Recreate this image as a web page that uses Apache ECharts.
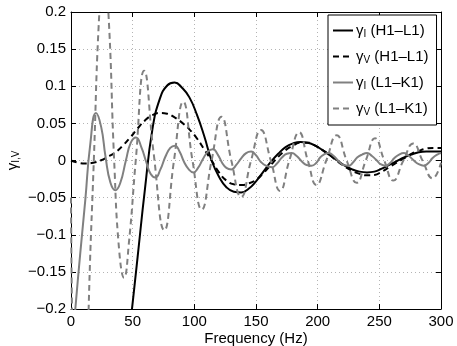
<!DOCTYPE html>
<html>
<head>
<meta charset="utf-8">
<script src="https://cdn.jsdelivr.net/npm/echarts@6/dist/echarts.min.js"></script>
<style>
  html, body { margin: 0; padding: 0; background: #fff; }
  #main { width: 457px; height: 346px; }
</style>
</head>
<body>
<div id="main"></div>
<script>
// tick labels
var xTicks = [0, 50, 100, 150, 200, 250, 300];
var yTicks = [-0.2, -0.15, -0.1, -0.05, 0, 0.05, 0.1, 0.15, 0.2];

// gamma_I (H1-L1), black solid
var hlIFreq = [42, 48, 54, 60, 66, 72, 78, 84, 90, 96, 102, 108, 114, 120, 126, 132, 138, 144, 150, 156, 162, 168, 174, 180, 186, 192, 198, 204, 210, 216, 222, 228, 234, 240, 246, 252, 258, 264, 270, 276, 282, 288, 294, 300];
var hlIVal  = [-0.31, -0.222, -0.13, -0.038, 0.042, 0.083, 0.101, 0.105, 0.098, 0.085, 0.062, 0.033, 0, -0.022, -0.036, -0.042, -0.043, -0.038, -0.028, -0.015, -0.002, 0.009, 0.018, 0.023, 0.025, 0.024, 0.02, 0.014, 0.007, 0, -0.007, -0.012, -0.015, -0.016, -0.015, -0.011, -0.006, -0.001, 0.004, 0.008, 0.011, 0.012, 0.012, 0.012];

// gamma_V (H1-L1), black dashed
var hlVFreq = [0, 6, 12, 18, 24, 30, 36, 42, 48, 54, 60, 66, 72, 78, 84, 90, 96, 102, 108, 114, 120, 126, 132, 138, 144, 150, 156, 162, 168, 174, 180, 186, 192, 198, 204, 210, 216, 222, 228, 234, 240, 246, 252, 258, 264, 270, 276, 282, 288, 294, 300];
var hlVVal  = [0, -0.003, -0.004, -0.003, 0, 0.005, 0.011, 0.02, 0.031, 0.043, 0.054, 0.061, 0.064, 0.063, 0.058, 0.051, 0.042, 0.03, 0.015, 0, -0.016, -0.027, -0.032, -0.033, -0.031, -0.026, -0.017, -0.006, 0.005, 0.014, 0.02, 0.024, 0.024, 0.02, 0.014, 0.007, -0.001, -0.008, -0.014, -0.018, -0.02, -0.0195, -0.015, -0.009, -0.003, 0.003, 0.009, 0.013, 0.016, 0.017, 0.017];

// gamma_I (L1-K1), grey solid
var lkIFreq = [0, 3.5, 7.5, 11.6, 15.5, 20.3, 24.5, 28, 32, 36, 40, 44.5, 48.5, 52.7, 57, 61, 64.5, 68.4, 72.5, 76.5, 80.5, 84.3, 88, 91.7, 95.5, 99.2, 103, 107, 111, 115, 119, 122.5, 126, 130, 134, 138, 142, 146, 150, 154, 158, 163, 167, 171, 175, 179, 183, 187, 191, 195, 199, 202, 205, 209, 213, 217, 221, 225, 229, 232, 236, 240, 244, 248, 251, 255, 259, 262, 266, 270, 274, 278, 282, 286, 290, 293, 297, 300];
var lkIVal  = [-0.27, -0.2, -0.125, -0.053, 0.02, 0.064, 0.045, 0.005, -0.03, -0.04, -0.03, 0, 0.024, 0.031, 0.018, -0.002, -0.018, -0.023, -0.012, 0.005, 0.017, 0.02, 0.012, -0.002, -0.012, -0.016, -0.01, 0.002, 0.012, 0.015, 0.008, -0.003, -0.01, -0.012, -0.006, 0.003, 0.01, 0.012, 0.007, -0.002, -0.007, -0.009, -0.004, 0.004, 0.009, 0.01, 0.006, -0.001, -0.006, -0.007, -0.003, 0.004, 0.008, 0.01, 0.006, -0.001, -0.006, -0.007, -0.002, 0.004, 0.008, 0.01, 0.006, 0, -0.005, -0.007, -0.003, 0.003, 0.008, 0.01, 0.006, 0, -0.005, -0.007, -0.003, 0.003, 0.008, 0.01];

// gamma_V (L1-K1), grey dashed
var lkVFreq = [0, 0.8, 3, 7.5, 12, 14.3, 18.5, 23, 26.6, 30.3, 35, 39, 43, 47, 52.5, 59.3, 67, 75.7, 83.5, 91, 98.5, 106, 114, 122, 130, 138, 146, 154, 162, 169.5, 177, 185, 192, 199, 207, 215.4, 223.5, 231.6, 239, 246.5, 254, 261.3, 269.5, 277.5, 285, 293.2, 300];
var lkVVal  = [-0.05, -0.2, -0.42, -0.55, -0.4, -0.2, 0, 0.2, 0.26, 0.2, 0, -0.12, -0.158, -0.11, 0, 0.121, 0.01, -0.094, 0, 0.079, 0, -0.066, 0, 0.059, 0, -0.049, 0, 0.041, 0, -0.041, 0, 0.038, 0, -0.033, 0, 0.034, 0, -0.03, 0, 0.03, 0, -0.027, 0, 0.023, 0, -0.024, -0.003];

function pairs(xs, ys) {
  return xs.map(function (x, i) { return [x, ys[i]]; });
}

var FONT = 'Liberation Sans';
var grey = '#808080';

var legendText = {
  'gI HL': '{g|γ}{s|I}{t| (H1–L1)}',
  'gV HL': '{g|γ}{s|V}{t| (H1–L1)}',
  'gI LK': '{g|γ}{s|I}{t| (L1–K1)}',
  'gV LK': '{g|γ}{s|V}{t| (L1–K1)}'
};

var rich = {
  g: { fontFamily: FONT, fontSize: 15, color: '#000' },
  s: { fontFamily: FONT, fontSize: 10, color: '#000', padding: [7, 0, 0, 0] },
  t: { fontFamily: FONT, fontSize: 15, color: '#000' }
};

function fmt(v) {
  var r = Math.round(v * 100) / 100;
  return String(r).replace('-', '−');
}

var chart = echarts.init(document.getElementById('main'), null, { renderer: 'canvas' });

var option = {
  animation: false,
  backgroundColor: '#fff',
  grid: { left: 71, right: 16, top: 12, bottom: 37, containLabel: false, outerBoundsMode: 'none' },
  xAxis: [
    {
      type: 'value', min: 0, max: 300, interval: 50,
      name: 'Frequency (Hz)', nameLocation: 'middle', nameGap: 22, nameMoveOverlap: false,
      nameTextStyle: { fontFamily: FONT, fontSize: 15, color: '#000' },
      axisLine: { show: true, onZero: false, lineStyle: { color: '#000', width: 1 } },
      axisTick: { show: true, inside: true, length: 5, lineStyle: { color: '#000' } },
      axisLabel: { fontFamily: FONT, fontSize: 15, color: '#000', margin: 5 },
      splitLine: { show: true, lineStyle: { color: '#b4b4b4', type: [1, 3], width: 1 } }
    },
    {
      type: 'value', position: 'top', min: 0, max: 300, interval: 50,
      axisLine: { show: true, onZero: false, lineStyle: { color: '#000', width: 1 } },
      axisTick: { show: true, inside: true, length: 5, lineStyle: { color: '#000' } },
      axisLabel: { show: false },
      splitLine: { show: false }
    }
  ],
  yAxis: [
    {
      type: 'value', min: -0.2, max: 0.2, interval: 0.05,
      name: '{g|γ}{s|I,V}', nameLocation: 'middle', nameGap: 50, nameRotate: 90, nameMoveOverlap: false,
      nameTextStyle: { rich: rich },
      axisLine: { show: true, onZero: false, lineStyle: { color: '#000', width: 1 } },
      axisTick: { show: true, inside: true, length: 5, lineStyle: { color: '#000' } },
      axisLabel: { fontFamily: FONT, fontSize: 15, color: '#000', margin: 5, formatter: fmt },
      splitLine: { show: true, lineStyle: { color: '#b4b4b4', type: [1, 3], width: 1 } }
    },
    {
      type: 'value', position: 'right', min: -0.2, max: 0.2, interval: 0.05,
      axisLine: { show: true, onZero: false, lineStyle: { color: '#000', width: 1 } },
      axisTick: { show: true, inside: true, length: 5, lineStyle: { color: '#000' } },
      axisLabel: { show: false },
      splitLine: { show: false }
    }
  ],
  legend: {
    orient: 'vertical',
    left: 328, top: 15,
    padding: [8, 8, 8, 4],
    itemGap: 10,
    itemWidth: 20,
    itemHeight: 14,
    backgroundColor: '#fff',
    borderColor: '#000',
    borderWidth: 1,
    borderRadius: 0,
    itemStyle: { opacity: 0 },
    data: ['gI HL', 'gV HL', 'gI LK', 'gV LK'],
    formatter: function (name) { return legendText[name]; },
    textStyle: { rich: rich, padding: [0, 0, 0, -2] }
  },
  series: [
    {
      name: 'gI HL', type: 'line', smooth: true, showSymbol: false, symbol: 'none',
      xAxisIndex: 0, yAxisIndex: 0, clip: true,
      lineStyle: { color: '#000', width: 2 }, itemStyle: { color: '#000' },
      data: pairs(hlIFreq, hlIVal)
    },
    {
      name: 'gV HL', type: 'line', smooth: true, showSymbol: false, symbol: 'none',
      xAxisIndex: 0, yAxisIndex: 0, clip: true,
      lineStyle: { color: '#000', width: 2, type: [6, 4] }, itemStyle: { color: '#000' },
      data: pairs(hlVFreq, hlVVal)
    },
    {
      name: 'gI LK', type: 'line', smooth: true, showSymbol: false, symbol: 'none',
      xAxisIndex: 0, yAxisIndex: 0, clip: true,
      lineStyle: { color: grey, width: 2 }, itemStyle: { color: grey },
      data: pairs(lkIFreq, lkIVal)
    },
    {
      name: 'gV LK', type: 'line', smooth: true, showSymbol: false, symbol: 'none',
      xAxisIndex: 0, yAxisIndex: 0, clip: true,
      lineStyle: { color: grey, width: 2, type: [6, 4] }, itemStyle: { color: grey },
      data: pairs(lkVFreq, lkVVal)
    }
  ]
};

chart.setOption(option);
</script>
</body>
</html>
